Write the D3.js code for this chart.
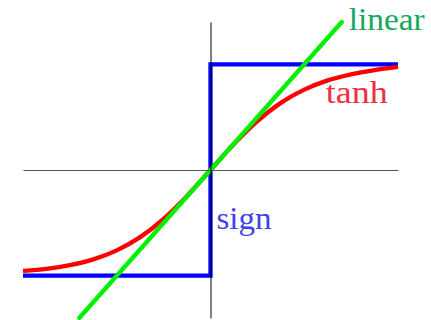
<!DOCTYPE html>
<html>
<head>
<meta charset="utf-8">
<script src="https://cdn.jsdelivr.net/npm/d3@7"></script>
<style>
  body { margin: 0; background: #fff; }
</style>
</head>
<body>
<div id="chart"></div>
<script>
// Values
const xs = [-2, -1.75, -1.5, -1.25, -1, -0.75, -0.5, -0.25, 0, 0.25, 0.5, 0.75, 1, 1.25, 1.5, 1.75, 2];
const tanhYs = [-0.955, -0.935, -0.9, -0.845, -0.76, -0.635, -0.462, -0.245, 0, 0.245, 0.462, 0.635, 0.76, 0.848, 0.905, 0.945, 0.975];
const signXs = [-2, 0, 0, 2];
const signYs = [-1, -1, 1, 1];
const linearXs = [-1.4, 1.4];
const linearYs = [-1.4, 1.4];
const labels = ["linear", "tanh", "sign"];

const width = 431, height = 320;

const svg = d3.select("#chart")
  .append("svg")
    .attr("width", width)
    .attr("height", height);

const x = d3.scaleLinear().domain([-2, 2]).range([23, 398]);
const y = d3.scaleLinear().domain([-1.4, 1.4]).range([318, 22]);

const line = d3.line()
  .x(d => x(d[0]))
  .y(d => y(d[1]));

// sign
svg.append("path")
  .datum(signXs.map((v, i) => [v, signYs[i]]))
  .attr("fill", "none")
  .attr("stroke", "#0000ff")
  .attr("stroke-width", 4.3)
  .attr("stroke-linejoin", "miter")
  .attr("d", line);

// tanh
svg.append("path")
  .datum(xs.map((v, i) => [v, tanhYs[i]]))
  .attr("fill", "none")
  .attr("stroke", "#ff0000")
  .attr("stroke-width", 4.3)
  .attr("d", line.curve(d3.curveMonotoneX));

// linear
svg.append("path")
  .datum(linearXs.map((v, i) => [v, linearYs[i]]))
  .attr("fill", "none")
  .attr("stroke", "#00f000")
  .attr("stroke-width", 4.3)
  .attr("stroke-linecap", "round")
  .attr("d", line.curve(d3.curveLinear));

// axes
svg.append("g")
  .attr("transform", `translate(0,${y(0)})`)
  .call(d3.axisBottom(x).ticks(0).tickSizeOuter(0))
  .select(".domain").attr("stroke", "#555");

svg.append("g")
  .attr("transform", `translate(${x(0)},0)`)
  .call(d3.axisLeft(y).ticks(0).tickSizeOuter(0))
  .select(".domain").attr("stroke", "#000");

// labels
const labelPos = [
  [x(1.4) + 7, 30, 76, "#16a85c"],
  [x(1.23), 103, 62, "#ec3040"],
  [x(0) + 6, 229, 55, "#4040f0"]
];
svg.selectAll(".lbl")
  .data(labels)
  .join("text")
    .attr("class", "lbl")
    .attr("x", (d, i) => labelPos[i][0])
    .attr("y", (d, i) => labelPos[i][1])
    .attr("textLength", (d, i) => labelPos[i][2])
    .attr("lengthAdjust", "spacingAndGlyphs")
    .attr("font-family", "'Times New Roman', Times, 'Liberation Serif', serif")
    .attr("font-size", 31)
    .attr("fill", (d, i) => labelPos[i][3])
    .text(d => d);
</script>
</body>
</html>
